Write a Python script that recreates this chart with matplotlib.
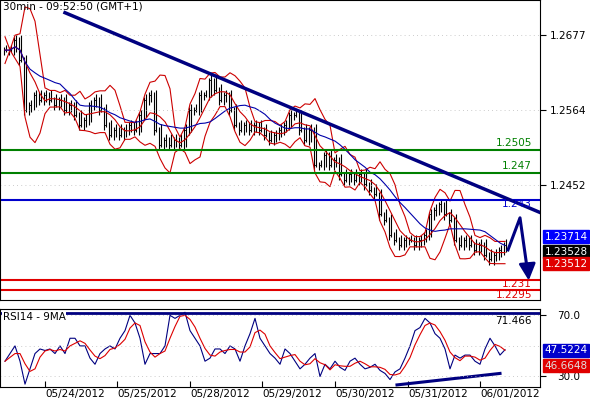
import matplotlib
matplotlib.use("Agg")
import matplotlib.pyplot as plt
import numpy as np
import pandas as pd

# closes, sampled every 5 px of the time axis (x = 5, 10, ... 505)
closes = [1.2654, 1.2654, 1.2669, 1.2639, 1.2565, 1.2572, 1.2587, 1.2580, 1.2587, 1.2580,
          1.2572, 1.2580, 1.2565, 1.2572, 1.2557, 1.2542, 1.2550, 1.2572, 1.2580, 1.2565,
          1.2542, 1.2527, 1.2535, 1.2527, 1.2535, 1.2542, 1.2535, 1.2557, 1.2580, 1.2587,
          1.2535, 1.2512, 1.2520, 1.2512, 1.2520, 1.2512, 1.2535, 1.2565, 1.2565, 1.2587,
          1.2587, 1.2609, 1.2595, 1.2580, 1.2587, 1.2565, 1.2542, 1.2535, 1.2542, 1.2535,
          1.2542, 1.2535, 1.2527, 1.2520, 1.2527, 1.2535, 1.2542, 1.2557, 1.2557, 1.2535,
          1.2520, 1.2535, 1.2482, 1.2482, 1.2497, 1.2482, 1.2490, 1.2468, 1.2460, 1.2468,
          1.2460, 1.2468, 1.2453, 1.2445, 1.2438, 1.2408, 1.2400, 1.2378, 1.2370, 1.2363,
          1.2370, 1.2370, 1.2363, 1.2370, 1.2378, 1.2408, 1.2415, 1.2423, 1.2408, 1.2400,
          1.2370, 1.2363, 1.2370, 1.2363, 1.2355, 1.2363, 1.2348, 1.2341, 1.2348, 1.2355,
          1.2363]

rsi = [40, 45, 50, 40, 25, 35, 45, 48, 47, 48, 45, 50, 45, 55, 55, 50, 50, 42, 38, 45,
       48, 50, 48, 55, 60, 70, 65, 55, 38, 45, 45, 45, 50, 70, 68, 70, 72, 60, 55, 50,
       40, 42, 48, 48, 45, 50, 48, 40, 50, 58, 68, 55, 50, 45, 42, 38, 48, 45, 40, 35,
       38, 42, 45, 30, 38, 35, 40, 36, 34, 40, 42, 38, 35, 36, 38, 34, 32, 28, 33, 35,
       42, 50, 60, 62, 68, 65, 58, 55, 48, 35, 44, 42, 44, 44, 40, 38, 48, 55, 50, 44,
       47.5]

dates = ["05/24/2012", "05/25/2012", "05/28/2012", "05/29/2012",
         "05/30/2012", "05/31/2012", "06/01/2012"]
date_x = [45, 117, 190, 262, 335, 408, 480]

price_ticks = [1.2677, 1.2564, 1.2452]
green_levels = [1.2505, 1.247]
blue_level = 1.243
red_levels = [1.231, 1.2295]
trend = ([65, 540], [1.2710, 1.2411])
rsi_trend = ([397, 500], [24.5, 32.0])
price_boxes = ["1.23714", "1.23528", "1.23512"]
rsi_boxes = ["47.5224", "46.6648"]

x = np.arange(len(closes)) * 5 + 5
c = pd.Series(closes)
mid = c.rolling(5, min_periods=1).mean()
sd = c.rolling(5, min_periods=2).std().fillna(0.001)
ma = c.rolling(12, min_periods=1).mean()
rsi_ma = pd.Series(rsi).rolling(3, min_periods=1).mean()

fig = plt.figure(figsize=(5.9, 4.0), dpi=100)
ax = fig.add_axes([0.0, 0.25, 540 / 590, 0.75])
ax2 = fig.add_axes([0.0, 0.032, 540 / 590, 0.195])

# price bars
opens = [closes[0]] + closes[:-1]
for xi, o, cl in zip(x, opens, closes):
    lo, hi = min(o, cl) - 0.0008, max(o, cl) + 0.0008
    ax.vlines([xi - 1.2, xi + 1.3], [lo, lo + 0.0005], [hi - 0.0004, hi], color="black", lw=0.8)
    ax.hlines(cl, xi - 1.2, xi + 1.3, color="black", lw=0.6)
ax.plot(x, mid + 2 * sd, color="#cc0000", lw=0.8)
ax.plot(x, mid - 2 * sd, color="#cc0000", lw=0.8)
ax.plot(x, mid, color="#cc0000", lw=0.8)
ax.plot(x, ma, color="#0000aa", lw=0.8)

for lv in green_levels:
    ax.axhline(lv, color="#008000", lw=1.5)
ax.axhline(blue_level, color="#0000cc", lw=1.5)
for lv in red_levels:
    ax.axhline(lv, color="#e00000", lw=1.5)
for lv in price_ticks:
    ax.axhline(lv, color="#bbbbbb", lw=0.6, ls=(0, (1, 4)))
ax.plot(trend[0], trend[1], color="#000080", lw=2.5)
ax.plot([508, 520, 528], [1.2355, 1.2403, 1.2318], color="#000080", lw=2.2)
ax.annotate("", xy=(529, 1.2305), xytext=(528, 1.2322),
            arrowprops=dict(arrowstyle="-|>,head_width=0.5,head_length=1",
                            color="#000080", lw=2))

lab = dict(ha="right", fontsize=7.5, transform=ax.get_yaxis_transform())
ax.text(0.985, 1.2508, "1.2505", color="#008000", va="bottom", **lab)
ax.text(0.985, 1.2473, "1.247", color="#008000", va="bottom", **lab)
ax.text(0.985, 1.2424, "1.243", color="#0000cc", va="center", **lab)
ax.text(0.985, 1.2304, "1.231", color="#e00000", va="center", **lab)
ax.text(0.985, 1.2287, "1.2295", color="#e00000", va="center", **lab)
ax.text(0.005, 0.995, "30min - 09:52:50 (GMT+1)", transform=ax.transAxes,
        fontsize=7.5, va="top")

ax.set_xlim(0, 540)
ax.set_ylim(1.2280, 1.2729)
ax.set_xticks([])
ax.yaxis.tick_right()
ax.set_yticks(price_ticks)
ax.set_yticklabels([f"{v:.4f}" for v in price_ticks])
ax.tick_params(axis="y", labelsize=7.5, length=4, pad=3)

box_cols = ["#0000ff", "black", "#e00000"]
box_y = [1.2375, 1.2352, 1.2334]
for t, col, yv in zip(price_boxes, box_cols, box_y):
    ax.text(1.008, yv, t, transform=ax.get_yaxis_transform(), color="white",
            fontsize=7.5, va="center", ha="left",
            bbox=dict(boxstyle="square,pad=0.15", fc=col, ec=col))

# RSI panel
ax2.plot(x, rsi, color="#000080", lw=0.8)
ax2.plot(x, rsi_ma, color="#dd0000", lw=0.8)
ax2.axhline(71.466, color="#000080", lw=2)
ax2.plot(rsi_trend[0], rsi_trend[1], color="#000080", lw=2.2)
for lv in [70, 50, 30]:
    ax2.axhline(lv, color="#bbbbbb", lw=0.6, ls=(0, (1, 4)))
ax2.text(0.985, 69.5, "71.466", transform=ax2.get_yaxis_transform(),
         ha="right", va="top", fontsize=7.5)
ax2.text(0.005, 0.97, "RSI14 - 9MA", transform=ax2.transAxes, fontsize=7.5,
         va="top", bbox=dict(fc="white", ec="none", pad=0.5))
ax2.set_xlim(0, 540)
ax2.set_ylim(23, 74)
ax2.yaxis.tick_right()
ax2.set_yticks([70, 30])
ax2.set_yticklabels(["70.0", "30.0"])
ax2.tick_params(axis="y", labelsize=7.5, length=4, pad=8)
ax2.set_xticks(date_x)
ax2.set_xticklabels(dates, ha="left")
ax2.tick_params(axis="x", labelsize=7.5, direction="in", length=4, pad=1)
ax2.text(1.008, 47.0, rsi_boxes[0], transform=ax2.get_yaxis_transform(), color="white",
         fontsize=7.5, va="center", bbox=dict(boxstyle="square,pad=0.15", fc="#0000cc", ec="#0000cc"))
ax2.text(1.008, 37.0, rsi_boxes[1], transform=ax2.get_yaxis_transform(), color="#e0e0e0",
         fontsize=7.5, va="center", bbox=dict(boxstyle="square,pad=0.15", fc="#e00000", ec="#e00000"))

fig.savefig("out.png", dpi=100)
